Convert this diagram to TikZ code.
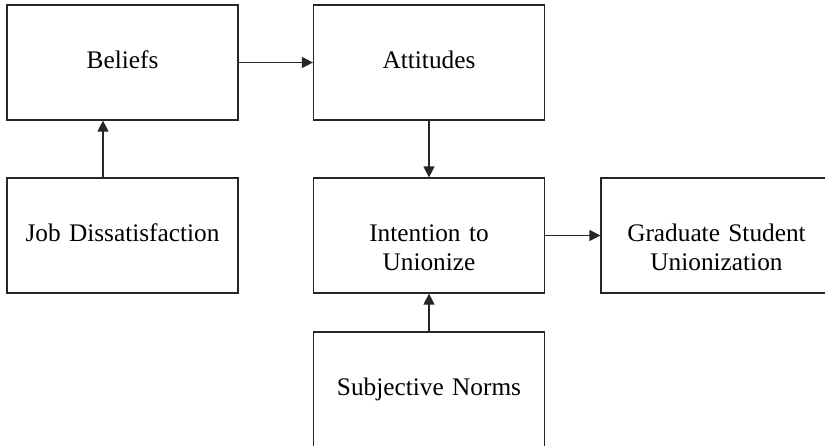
\documentclass[tikz,border=0pt]{standalone}
\usepackage{fontspec}
\setmainfont{Liberation Serif}
\usetikzlibrary{arrows.meta}
\usetikzlibrary{positioning}

\begin{document}
\begin{tikzpicture}[
	x = 1pt, y = -1pt,
	factor/.style = {
	  draw = black!85, line width = 1.2pt,
	  text width = 231pt, align = center,
	  inner xsep = 0pt, inner ysep = 0pt,
	  text height = 63pt, text depth = 52pt,
	  font = \fontsize{25.3}{29}\selectfont,
	},
	link/.style = {
	  draw = black!85, line width = 1.2pt,
	  -{Triangle[length=11pt, width=11pt]},
	},
  ]

  \clip (0,0) rectangle (825,445);
  \useasboundingbox (0,0) rectangle (825,445);

  \node[factor] (beliefs)   at (122.5, 62.5)  {Beliefs};
  \node[factor] (attitudes) at (429, 62.5)    {Attitudes};
  \node[factor] (job)       at (122.5, 235.5) {Job Dissatisfaction};
  \node[factor] (intent)    at (429, 235.5)   {Intention to\\Unionize};
  \node[factor] (union)     at (716.5, 235.5) {Graduate Student\\Unionization};
  \node[factor] (norms)     at (429, 389.5)   {Subjective Norms};

  \draw[link] (beliefs) to (attitudes);
  \draw[link] (attitudes) to (intent);
  \draw[link] ([xshift=-19.5pt]job.north) to ([xshift=-19.5pt]beliefs.south);
  \draw[link] (intent) to (union);
  \draw[link] (norms) to (intent);
\end{tikzpicture}
\end{document}
